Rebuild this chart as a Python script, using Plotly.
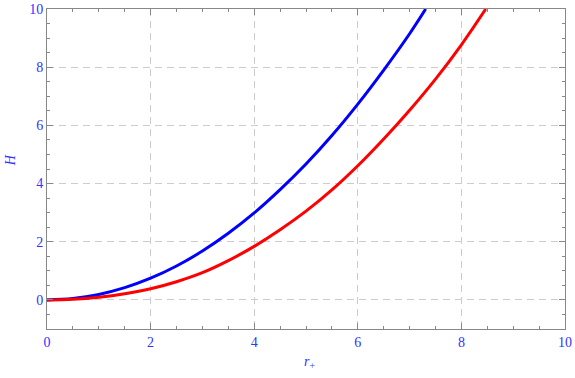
import plotly.graph_objects as go

r_blue = [0, 0.5, 1, 1.5, 2, 2.5, 3, 3.5, 4, 4.5, 5, 5.5, 6, 6.5, 7, 7.31]
H_blue = [0, 0.047, 0.187, 0.42, 0.745, 1.165, 1.68, 2.29, 2.99, 3.79, 4.67, 5.65, 6.73, 7.9, 9.15, 10]

r_red = [0, 0.5, 1, 1.5, 2, 2.5, 3, 3.5, 4, 4.5, 5, 5.5, 6, 6.5, 7, 7.5, 8, 8.47]
H_red = [0, 0.024, 0.095, 0.214, 0.384, 0.625, 0.936, 1.35, 1.84, 2.41, 3.05, 3.78, 4.61, 5.53, 6.52, 7.59, 8.77, 10]

x_ticks = [0, 2, 4, 6, 8, 10]
y_ticks = [0, 2, 4, 6, 8, 10]

FONT = "Liberation Serif, Times New Roman, serif"
BLUE_TXT = "#3333ff"

fig = go.Figure()
fig.add_trace(go.Scatter(x=r_blue, y=H_blue, mode="lines", line=dict(color="#0000ff", width=3, shape="spline"), showlegend=False))
fig.add_trace(go.Scatter(x=r_red, y=H_red, mode="lines", line=dict(color="#ff0000", width=3, shape="spline"), showlegend=False))

axis_common = dict(
    showline=True, linecolor="#888888", linewidth=1, mirror="ticks",
    ticks="inside", ticklen=6, tickcolor="#888888", tickwidth=1,
    showgrid=True, gridcolor="#cccccc", griddash="7px,5px", gridwidth=1,
    zeroline=False, automargin=False, ticklabeloverflow="allow",
    tickfont=dict(family=FONT, size=14, color=BLUE_TXT),
    minor=dict(ticks="inside", ticklen=3, tickcolor="#888888", dtick=0.5, showgrid=False),
)

fig.update_xaxes(range=[0, 10], tickvals=x_ticks, ticktext=[str(v) for v in x_ticks], **axis_common)
fig.update_yaxes(range=[-1, 10], tickvals=y_ticks, ticktext=[str(v) for v in y_ticks], **axis_common)

fig.add_annotation(text="<i>r</i><sub>+</sub>", xref="paper", yref="paper", x=0.506, y=-0.106,
                   xanchor="center", yanchor="middle",
                   showarrow=False, font=dict(family=FONT, size=14, color=BLUE_TXT))
fig.add_annotation(text="<i>H</i>", xref="paper", yref="paper", x=-0.071, y=0.528, textangle=-90,
                   xanchor="center", yanchor="middle",
                   showarrow=False, font=dict(family=FONT, size=14, color=BLUE_TXT))

fig.update_layout(
    width=575, height=378,
    margin=dict(l=47, r=10, t=9, b=49),
    plot_bgcolor="white", paper_bgcolor="white",
)

fig.write_html("out.html", config={"displayModeBar": False},
               post_script="document.body.style.margin='0';")
